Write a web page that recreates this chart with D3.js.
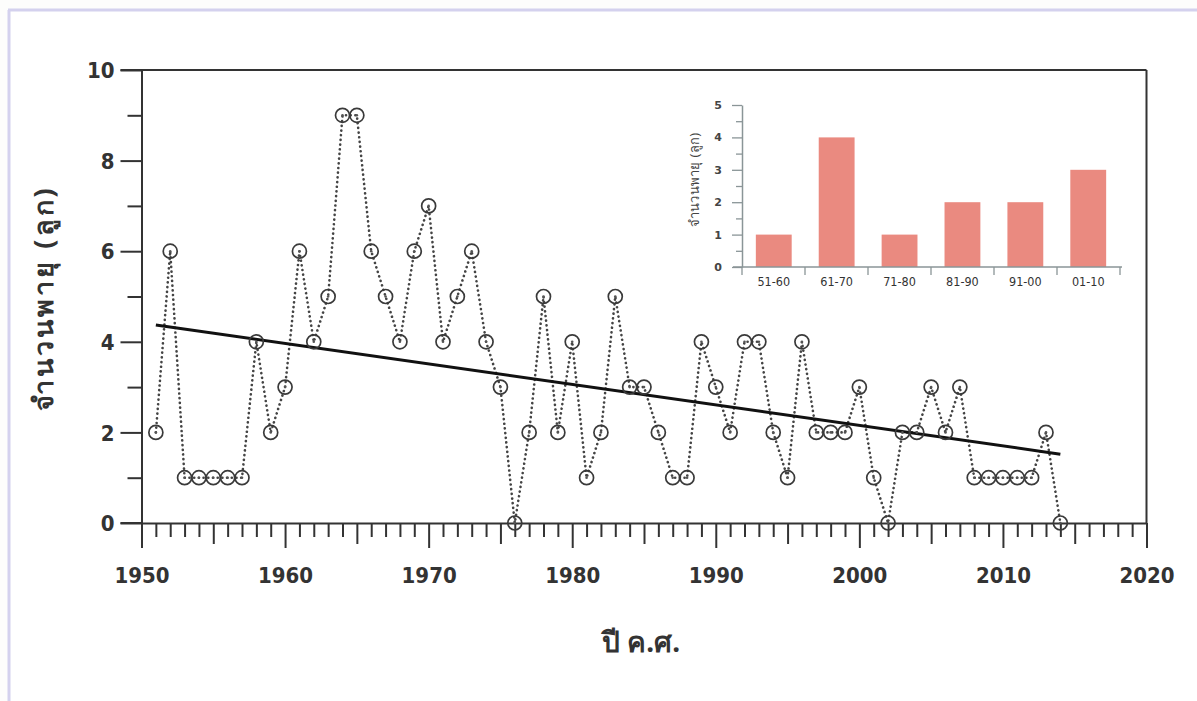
<!DOCTYPE html>
<html><head><meta charset="utf-8">
<script src="https://cdn.jsdelivr.net/npm/d3@7"></script>
<style>
html,body{margin:0;padding:0;background:#fff;}
svg{display:block;}
</style></head>
<body>
<svg id="chart" width="1197" height="701"></svg>
<script>
// ---- Data ----
const years = d3.range(1951, 2015);
const stormCounts = [2,6,1,1,1,1,1,4,2,3, 6,4,5,9,9,6,5,4,6,7, 4,5,6,4,3,0,2,5,2,4, 1,2,5,3,3,2,1,1,4,3, 2,4,4,2,1,4,2,2,2,3, 1,0,2,2,3,2,3,1,1,1, 1,1,2,0];
const trendYears = [1951, 2014];
const trendValues = [4.37, 1.52];
const xTickLabels = [1950,1960,1970,1980,1990,2000,2010,2020];
const yTickLabels = [0,2,4,6,8,10];
const decades = ["51-60","61-70","71-80","81-90","91-00","01-10"];
const decadeCounts = [1,4,1,2,2,3];
const insetTicks = [0,1,2,3,4,5];

const svg = d3.select("#chart");
// background frame
svg.append("rect").attr("x",0).attr("y",0).attr("width",1197).attr("height",701).attr("fill","#fdfdfc");
svg.append("rect").attr("x",9).attr("y",10).attr("width",1188).attr("height",691).attr("fill","#ffffff");
svg.append("line").attr("x1",8).attr("x2",1197).attr("y1",10).attr("y2",10).attr("stroke","#d4d1ee").attr("stroke-width",3);
svg.append("line").attr("x1",9).attr("x2",9).attr("y1",10).attr("y2",701).attr("stroke","#d4d1ee").attr("stroke-width",3);

// ---- Main chart ----
const x = d3.scaleLinear().domain([1950,2020]).range([141.5,1146.5]);
const y = d3.scaleLinear().domain([0,10]).range([523,70]);
const axisColor = "#333";
const g = svg.append("g");

// frame: top & right
g.append("line").attr("x1",x(1950)-21).attr("x2",x(2020)).attr("y1",y(10)).attr("y2",y(10)).attr("stroke",axisColor).attr("stroke-width",2);
g.append("line").attr("x1",x(2020)).attr("x2",x(2020)).attr("y1",y(10)).attr("y2",y(0)).attr("stroke",axisColor).attr("stroke-width",2);

// y axis
const yAxis = d3.axisLeft(y).tickValues(d3.range(0,11,1)).tickSizeOuter(0)
  .tickFormat(d => yTickLabels.includes(d) ? d : "");
const yg = g.append("g").attr("transform",`translate(${x(1950)},0)`).call(yAxis);
yg.select(".domain").attr("stroke",axisColor).attr("stroke-width",2);
yg.selectAll(".tick line").attr("stroke",axisColor).attr("stroke-width",2)
  .attr("x2", d => d%2===0 ? -21 : -14);
yg.selectAll(".tick text").attr("x",-27).attr("dy","0.35em")
  .style("font-family","'DejaVu Sans Condensed','DejaVu Sans',sans-serif").style("font-weight","bold")
  .style("font-size","22px").attr("fill","#333");
// x axis
const xAxis = d3.axisBottom(x).tickValues(d3.range(1950,2021,1)).tickSizeOuter(0)
  .tickFormat(d => xTickLabels.includes(d) ? d : "");
const xg = g.append("g").attr("transform",`translate(0,${y(0)})`).call(xAxis);
xg.select(".domain").attr("stroke",axisColor).attr("stroke-width",2);
xg.selectAll(".tick line").attr("stroke",axisColor).attr("stroke-width",2)
  .attr("y2", d => d%10===0 ? 25 : (d%5===0 ? 21 : 14));
xg.selectAll(".tick text").attr("y",52).attr("dy","0.35em")
  .style("font-family","'DejaVu Sans Condensed','DejaVu Sans',sans-serif").style("font-weight","bold")
  .style("font-size","22px").attr("fill","#333");
g.append("line").attr("x1",x(1950)-21).attr("x2",x(1950)).attr("y1",y(0)).attr("y2",y(0)).attr("stroke",axisColor).attr("stroke-width",2);

// dotted series line
const pts = years.map((yr,i)=>({yr, v: stormCounts[i]}));
g.append("path").datum(pts)
  .attr("d", d3.line().x(d=>x(d.yr)).y(d=>y(d.v)))
  .attr("fill","none").attr("stroke","#444").attr("stroke-width",2.6)
  .attr("stroke-dasharray","0.1,4.6").attr("stroke-linecap","round");

// trend line
g.append("path").datum(trendYears.map((yr,i)=>({yr, v: trendValues[i]})))
  .attr("d", d3.line().x(d=>x(d.yr)).y(d=>y(d.v)))
  .attr("fill","none").attr("stroke","#111").attr("stroke-width",3);

// markers
g.selectAll("circle.pt").data(pts).join("circle").attr("class","pt")
  .attr("cx",d=>x(d.yr)).attr("cy",d=>y(d.v)).attr("r",7)
  .attr("fill","none").attr("stroke","#3a3a3a").attr("stroke-width",1.7);
g.selectAll("circle.dot").data(pts).join("circle").attr("class","dot")
  .attr("cx",d=>x(d.yr)).attr("cy",d=>y(d.v)).attr("r",1.3).attr("fill","#555");

// axis titles
svg.append("text").attr("transform","translate(53,298) rotate(-90)")
  .attr("text-anchor","middle")
  .style("font-family","'Noto Sans','DejaVu Sans',sans-serif").style("font-weight","bold")
  .style("font-size","27px").style("letter-spacing","3px").attr("fill","#333").text("จำนวนพายุ (ลูก)");
svg.append("text").attr("x",641).attr("y",652).attr("text-anchor","middle")
  .style("font-family","'Noto Sans','DejaVu Sans',sans-serif").style("font-weight","bold")
  .style("font-size","28px").attr("fill","#333").text("ปี ค.ศ.");

// ---- Inset bar chart ----
const ix = d3.scaleBand().domain(decades).range([742,1120]).paddingInner(0.43).paddingOuter(0.22);
const iy = d3.scaleLinear().domain([0,5]).range([267,105]);
const ig = svg.append("g");
ig.selectAll("rect.bar").data(decades.map((d,i)=>({d, v: decadeCounts[i]}))).join("rect")
  .attr("class","bar").attr("x",d=>ix(d.d)).attr("width",ix.bandwidth())
  .attr("y",d=>iy(d.v)).attr("height",d=>iy(0)-iy(d.v)).attr("fill","#ea8a80");
const inCol = "#8a9597";
const iyAxis = d3.axisLeft(iy).tickValues(d3.range(0,5.01,0.5)).tickSizeOuter(0)
  .tickFormat(d => Number.isInteger(d) ? d : "");
const iyg = ig.append("g").attr("transform","translate(742,0)").call(iyAxis);
iyg.select(".domain").attr("stroke",inCol).attr("stroke-width",1.5);
iyg.selectAll(".tick line").attr("stroke",inCol).attr("stroke-width",1.3).attr("x2",d=>Number.isInteger(d)?-10:-6);
iyg.selectAll(".tick text").attr("x",-20).style("font-family","'DejaVu Sans',sans-serif").style("font-size","11px").style("font-weight","bold").attr("fill","#444");
// x axis of inset
ig.append("line").attr("x1",733).attr("x2",1122).attr("y1",iy(0)).attr("y2",iy(0)).attr("stroke",inCol).attr("stroke-width",1.5);
const bounds = d3.range(0,7).map(i=>742 + i*(1120-742)/6);
ig.selectAll("line.sep").data(bounds).join("line").attr("class","sep")
  .attr("x1",d=>d).attr("x2",d=>d).attr("y1",iy(0)).attr("y2",iy(0)+8).attr("stroke",inCol).attr("stroke-width",1.3);
ig.selectAll("text.cat").data(decades).join("text").attr("class","cat")
  .attr("x",d=>ix(d)+ix.bandwidth()/2).attr("y",iy(0)+19).attr("text-anchor","middle")
  .style("font-family","'DejaVu Sans Condensed','DejaVu Sans',sans-serif").style("font-size","12.5px").attr("fill","#333").text(d=>d);
ig.append("text").attr("transform","translate(699,180) rotate(-90)").attr("text-anchor","middle")
  .style("font-family","'Noto Sans','DejaVu Sans',sans-serif").style("font-size","13px").style("letter-spacing","0.3px").attr("fill","#444")
  .text("จำนวนพายุ (ลูก)");
</script>
</body></html>
